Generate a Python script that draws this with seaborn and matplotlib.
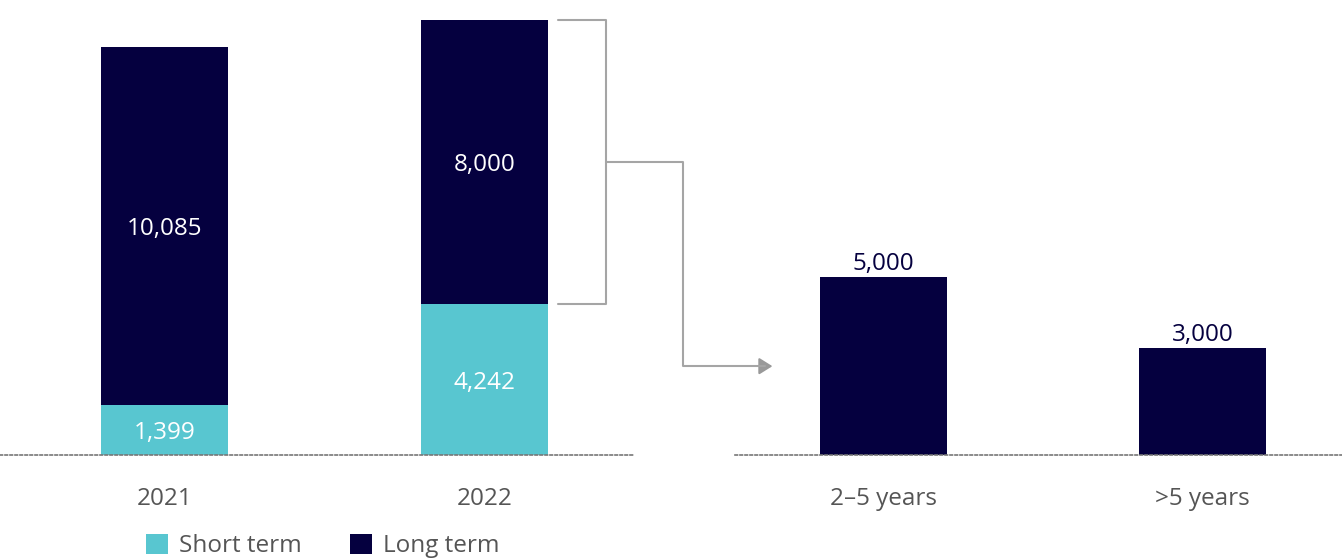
import matplotlib
matplotlib.use("Agg")
import matplotlib.pyplot as plt
from matplotlib.lines import Line2D
from matplotlib.patches import Patch, FancyArrowPatch
import seaborn as sns
import pandas as pd

years = ["2021", "2022"]
short_term = [1399, 4242]
long_term = [10085, 8000]
maturity = ["2–5 years", ">5 years"]
maturity_values = [5000, 3000]

NAVY = "#05003F"
TEAL = "#58C6D0"
GRAY_TXT = "#555555"
GRAY_LN = "#A5A5A5"

sns.set_theme(style="white")
plt.rcParams["font.family"] = ["Open Sans", "DejaVu Sans"]

W, H = 1342, 558
fig = plt.figure(figsize=(W / 100, H / 100), dpi=100)

base_px = 455
top_px = 20
ymax = max(s + l for s, l in zip(short_term, long_term))
bottom = (H - base_px) / H
height = (base_px - top_px) / H

axL = fig.add_axes([0 / W, bottom, 635 / W, height])
axR = fig.add_axes([735 / W, bottom, (W - 735) / W, height])

bw = 127 / 320

left_df = pd.DataFrame({
    "year": years,
    "total": [s + l for s, l in zip(short_term, long_term)],
    "short": short_term,
    "long": long_term,
})
sns.barplot(data=left_df, x="year", y="total", color=NAVY, width=bw,
            saturation=1, linewidth=0, ax=axL)
sns.barplot(data=left_df, x="year", y="short", color=TEAL, width=bw,
            saturation=1, linewidth=0, ax=axL)

right_df = pd.DataFrame({"maturity": maturity, "value": maturity_values})
sns.barplot(data=right_df, x="maturity", y="value", color=NAVY, width=bw,
            saturation=1, linewidth=0, ax=axR)

fs = 17.5

axL.set_xlim(-164.5 / 320, (635 - 164.5) / 320)
axR.set_xlim(-(883.5 - 735) / 319, (W - 883.5) / 319)
for ax in (axL, axR):
    ax.set_ylim(0, ymax)
    ax.set_xlabel("")
    ax.set_ylabel("")
    ax.set_yticks([])
    for s in ("top", "left", "right"):
        ax.spines[s].set_visible(False)
    ax.spines["bottom"].set_linestyle((0, (1.5, 1.5)))
    ax.spines["bottom"].set_color("#777777")
    ax.spines["bottom"].set_linewidth(1.2)
    ax.tick_params(axis="x", length=0, pad=23, labelsize=fs, labelcolor=GRAY_TXT)
    ax.set_facecolor("none")

for i, (s, l) in enumerate(zip(short_term, long_term)):
    axL.text(i, s / 2, f"{s:,}", ha="center", va="center_baseline", color="white", fontsize=fs)
    axL.text(i, s + l / 2, f"{l:,}", ha="center", va="center_baseline", color="white", fontsize=fs)
for i, v in enumerate(maturity_values):
    axR.annotate(f"{v:,}", (i, v), xytext=(0, 1), textcoords="offset points",
                 ha="center", va="bottom", color=NAVY, fontsize=fs)

# bracket + connector arrow (in pixel space derived from data)
def px(ax, x, y):
    return ax.transData.transform((x, y))

bar_right = px(axL, 1 + bw / 2, 0)[0]
y_top = px(axL, 1, short_term[1] + long_term[1])[1]
y_bot = px(axL, 1, short_term[1])[1]
y_mid = (y_top + y_bot) / 2
x0 = bar_right + 10
xv = bar_right + 58
x_turn = xv + 77
target_x = px(axR, -bw / 2, 0)[0] - 45
target_y = px(axR, 0, maturity_values[0] / 2)[1]

to_fig = fig.transFigure.inverted()
def f(p):
    return to_fig.transform(p)

pts = [f((x0, y_top)), f((xv, y_top)), f((xv, y_bot)), f((x0, y_bot))]
fig.add_artist(Line2D([p[0] for p in pts], [p[1] for p in pts],
                      transform=fig.transFigure, color=GRAY_LN, lw=1.5))
pts2 = [f((xv, y_mid)), f((x_turn, y_mid)), f((x_turn, target_y)), f((target_x - 10, target_y))]
fig.add_artist(Line2D([p[0] for p in pts2], [p[1] for p in pts2],
                      transform=fig.transFigure, color=GRAY_LN, lw=1.5))
arr = FancyArrowPatch(f((target_x - 12, target_y)), f((target_x, target_y)),
                      transform=fig.transFigure, arrowstyle="-|>,head_length=8,head_width=5",
                      color="#999999", lw=1.5, mutation_scale=1)
fig.add_artist(arr)

handles = [Patch(facecolor=TEAL, edgecolor="none", label="Short term"),
           Patch(facecolor=NAVY, edgecolor="none", label="Long term")]
fig.legend(handles=handles, loc="center left", bbox_to_anchor=(124 / W, 1 - 546 / H),
           ncol=2, frameon=False, fontsize=fs, handlelength=0.9, handleheight=0.9,
           handletextpad=0.45, columnspacing=2.0, labelcolor=GRAY_TXT)

fig.savefig("out.png", dpi=100)
